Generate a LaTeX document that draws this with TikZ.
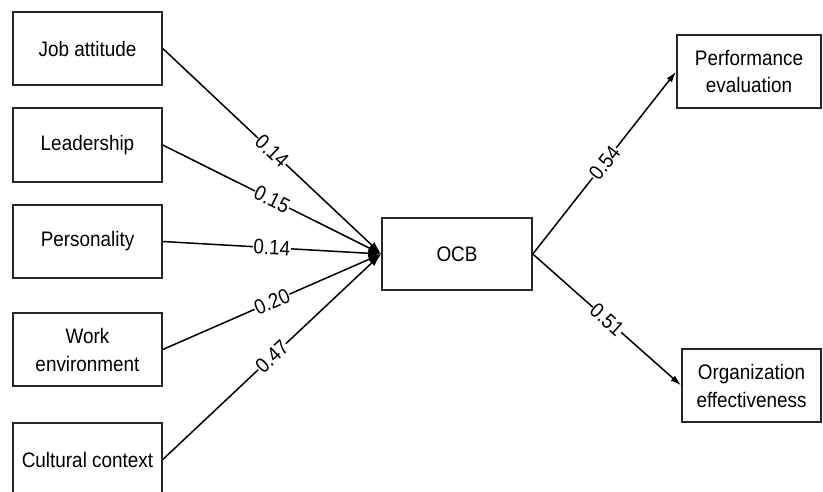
\documentclass[tikz,border=0pt]{standalone}
\usepackage{fontspec}
\setmainfont{Liberation Sans}[FakeStretch=0.9]
\usetikzlibrary{arrows.meta}
\begin{document}
\begin{tikzpicture}[x=1pt,y=-1pt,
  box/.style={draw=black!85, line width=1.6pt, rectangle, align=center, inner sep=0pt,
    font=\fontsize{21}{28}\selectfont},
  link/.style={line width=1.5pt, -{Latex[length=13pt,width=8pt]}},
  outlink/.style={line width=1.5pt, -{Latex[length=11pt,width=6.5pt]}},
  wt/.style={midway, sloped, fill=white, inner sep=0.5pt, font=\fontsize{21}{22}\selectfont}]
\useasboundingbox (0,0) rectangle (823,491);
\fill[white] (0,0) rectangle (823,491);
\node[box, minimum width=149pt, minimum height=73pt] (job) at (87.5,48.5) {Job attitude};
\node[box, minimum width=149pt, minimum height=74pt] (lead) at (87.5,145) {Leadership};
\node[box, minimum width=149pt, minimum height=73pt] (pers) at (87.5,241.5) {Personality};
\node[box, minimum width=149pt, minimum height=73pt] (work) at (87.5,349.5) {Work\\environment};
\node[box, minimum width=149pt, minimum height=73pt] (cult) at (87.5,459.5) {Cultural context};
\node[box, minimum width=150pt, minimum height=72pt] (ocb) at (457,254) {OCB};
\node[box, minimum width=144pt, minimum height=73pt] (perf) at (749,71.5) {Performance\\evaluation};
\node[box, minimum width=139pt, minimum height=73pt] (org) at (751.5,385.5) {Organization\\effectiveness};
\draw[link] (job.east) -- node[wt] {0.14} (ocb.west);
\draw[link] (lead.east) -- node[wt] {0.15} (ocb.west);
\draw[link] (pers.east) -- node[wt] {0.14} (ocb.west);
\draw[link] (work.east) -- node[wt] {0.20} (ocb.west);
\draw[link] (cult.east) -- node[wt] {0.47} (ocb.west);
\draw[outlink] (ocb.east) -- node[wt] {0.54} (perf.west);
\draw[outlink] (ocb.east) -- node[wt] {0.51} (org.west);
\end{tikzpicture}
\end{document}
